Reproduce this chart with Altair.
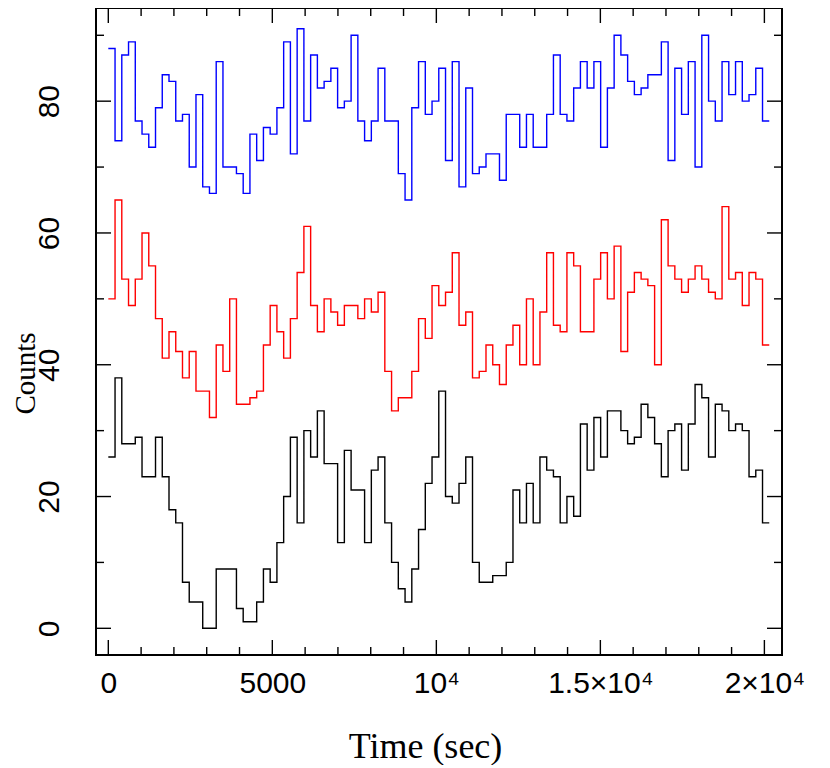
import altair as alt
import pandas as pd

bin_width = 205.6

black = [26, 38, 28, 28, 29, 23, 23, 29, 23, 18, 16, 7, 4, 4, 0, 0, 9, 9, 9, 3,
         1, 1, 4, 9, 7, 13, 20, 29, 16, 30, 26, 33, 25, 25, 13, 27, 21, 21, 13, 24,
         26, 16, 10, 6, 4, 9, 15, 22, 26, 36, 20, 19, 22, 26, 10, 7, 7, 8, 8, 10,
         21, 16, 22, 16, 26, 24, 23, 16, 20, 17, 31, 24, 32, 26, 33, 33, 30, 28, 29, 34,
         32, 28, 23, 30, 31, 24, 31, 37, 35, 26, 34, 33, 30, 31, 30, 23, 24, 16]
red = [50, 65, 53, 49, 53, 60, 55, 47, 41, 45, 42, 38, 42, 36, 36, 32, 43, 39, 50, 34,
       34, 35, 36, 43, 49, 45, 41, 47, 54, 61, 49, 45, 50, 48, 46, 49, 49, 47, 50, 48,
       51, 39, 33, 35, 35, 39, 47, 44, 52, 49, 51, 57, 46, 48, 38, 39, 43, 40, 37, 43,
       46, 40, 50, 40, 48, 57, 46, 45, 57, 55, 45, 45, 53, 57, 50, 58, 42, 51, 54, 53,
       52, 40, 62, 55, 53, 51, 53, 55, 53, 51, 50, 64, 53, 54, 49, 54, 53, 43]
blue = [88, 74, 87, 89, 77, 75, 73, 79, 84, 83, 77, 78, 70, 81, 67, 66, 86, 70, 70, 69,
        66, 75, 71, 76, 75, 79, 89, 72, 91, 77, 87, 82, 83, 85, 79, 80, 90, 77, 74, 77,
        85, 77, 77, 69, 65, 79, 86, 78, 80, 85, 71, 86, 67, 82, 69, 70, 72, 72, 68, 78,
        78, 73, 78, 73, 73, 78, 87, 78, 77, 82, 86, 82, 86, 73, 82, 90, 87, 83, 81, 82,
        84, 84, 89, 71, 85, 78, 86, 70, 90, 80, 77, 86, 81, 86, 80, 81, 85, 77]

series_names = ["black", "red", "blue"]
series_colors = ["#000000", "#ff0000", "#0000ff"]

x_major = [0, 5000, 10000, 15000, 20000]
x_labels = ["0", "5000", "10⁴", "1.5×10⁴", "2×10⁴"]
x_minor = [1000 * k for k in range(21) if k % 5]
y_major = [0, 20, 40, 60, 80]
y_minor = [10, 30, 50, 70, 90]

rows = []
for name, vals in zip(series_names, [black, red, blue]):
    ext = vals + [vals[-1]]
    for i, v in enumerate(ext):
        rows.append({"time": i * bin_width, "counts": v, "series": name})
df = pd.DataFrame(rows)

W, H = 686, 647
xscale = alt.Scale(domain=[-375, 20537], nice=False, zero=False)
yscale = alt.Scale(domain=[-4.05, 94.14], nice=False, zero=False)

label_expr = " : ".join(
    f"datum.value == {v} ? '{l}'" for v, l in zip(x_major, x_labels)
) + " : ''"

x_axis = alt.Axis(
    values=x_major, labelExpr=label_expr, ticks=False, domain=False, grid=False,
    labelFont="Liberation Sans", labelFontSize=30, labelColor="black",
    labelPadding=13, labelFlush=False,
    title="Time (sec)", titleFont="Liberation Serif", titleFontSize=36,
    titleFontWeight="normal", titleColor="black",
    titleX=329, titleY=102, titleAlign="center", titleBaseline="alphabetic")
y_axis = alt.Axis(
    values=y_major, ticks=False, domain=False, grid=False,
    labelFont="Liberation Sans", labelFontSize=30, labelColor="black",
    labelAngle=-90, labelAlign="center", labelBaseline="alphabetic",
    labelPadding=38, labelFlush=False,
    title="Counts", titleFont="Liberation Serif", titleFontSize=29,
    titleFontWeight="normal", titleColor="black", titleAngle=-90,
    titleX=-85, titleY=365, titleAlign="center", titleBaseline="top")

X = alt.X("time:Q", scale=xscale, axis=x_axis)
Y = alt.Y("counts:Q", scale=yscale, axis=y_axis)

lines = alt.Chart(df).mark_line(interpolate="step-after", strokeWidth=1.4).encode(
    x=X, y=Y,
    color=alt.Color("series:N", scale=alt.Scale(domain=series_names, range=series_colors),
                    legend=None),
    detail="series:N",
)


def xticks(vals, length):
    d = pd.DataFrame({"time": vals})
    base = alt.Chart(d).mark_rule(color="black", strokeWidth=1.4)
    bottom = base.encode(x=X, y=alt.value(H), y2=alt.value(H - length))
    top = base.encode(x=X, y=alt.value(0), y2=alt.value(length))
    return [bottom, top]


def yticks(vals, length):
    d = pd.DataFrame({"counts": vals})
    base = alt.Chart(d).mark_rule(color="black", strokeWidth=1.4)
    left = base.encode(y=Y, x=alt.value(0), x2=alt.value(length))
    right = base.encode(y=Y, x=alt.value(W), x2=alt.value(W - length))
    return [left, right]


layers = [lines] + xticks(x_major, 15) + xticks(x_minor, 8) + yticks(y_major, 15) + yticks(y_minor, 8)

chart = alt.layer(*layers).properties(
    width=W, height=H,
    autosize=alt.AutoSizeParams(type="none"),
    padding={"left": 88, "top": 0, "right": 40, "bottom": 110},
    background="white",
).configure_view(stroke="black", strokeWidth=2)

chart.save("out.html", embed_options={"renderer": "svg", "actions": False})
